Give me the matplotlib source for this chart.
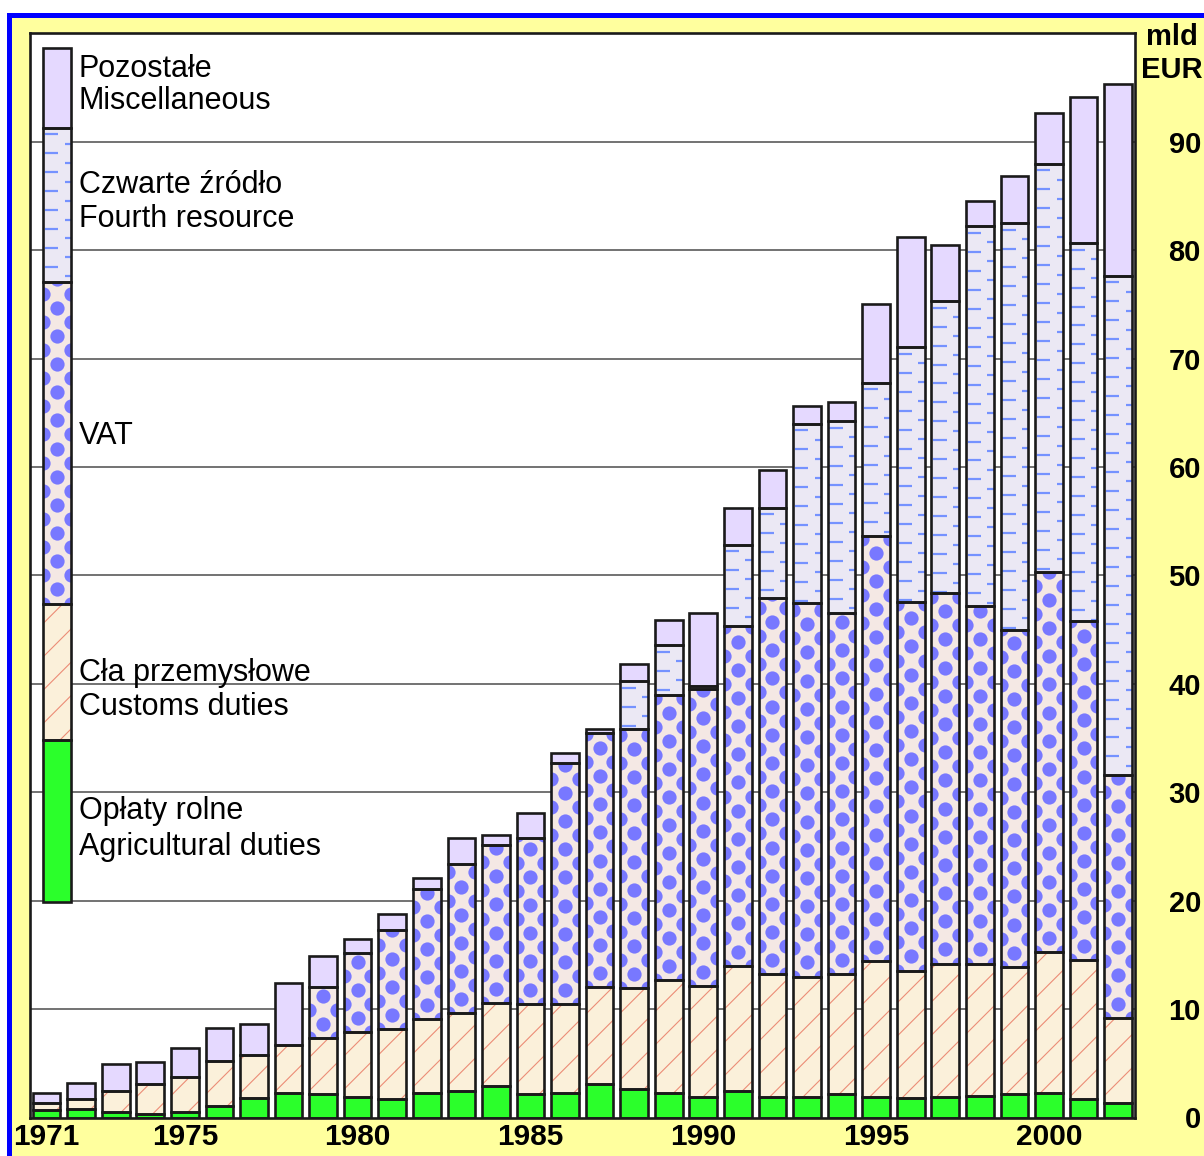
import numpy as np
import matplotlib.pyplot as plt
from matplotlib.patches import Rectangle

plt.rcParams['font.family'] = ['Liberation Sans', 'DejaVu Sans']
plt.rcParams['hatch.linewidth'] = 0.8

# EU own resources, bn EUR
years = np.arange(1971, 2003)
agri = [0.7, 0.75, 0.5, 0.3, 0.55, 1.1, 1.8, 2.25, 2.15, 1.9, 1.7, 2.25, 2.4, 2.95, 2.15, 2.25,
        3.05, 2.65, 2.3, 1.85, 2.45, 1.9, 1.9, 2.15, 1.85, 1.8, 1.85, 1.95, 2.15, 2.25, 1.75, 1.3]
customs = [0.65, 0.95, 1.95, 2.8, 3.2, 4.15, 3.95, 4.4, 5.2, 5.95, 6.45, 6.8, 7.2, 7.6, 8.35, 8.2,
           8.95, 9.25, 10.35, 10.3, 11.55, 11.3, 11.1, 11.05, 12.55, 11.75, 12.35, 12.25, 11.75, 13.0, 12.8, 7.9]
vat = [0, 0, 0, 0, 0, 0, 0, 0, 4.7, 7.35, 9.15, 12.05, 13.75, 14.55, 15.25, 22.25,
       23.5, 23.95, 26.35, 27.35, 31.35, 34.75, 34.5, 33.3, 39.2, 34.0, 34.15, 33.0, 31.05, 35.1, 31.25, 22.4]
fourth = [0, 0, 0, 0, 0, 0, 0, 0, 0, 0, 0, 0, 0, 0, 0, 0,
          0, 4.4, 4.55, 0.3, 7.5, 8.3, 16.5, 17.7, 14.15, 23.5, 26.95, 35.0, 37.55, 37.6, 34.85, 46.05]
misc = [0.95, 1.45, 2.45, 2.0, 2.7, 3.0, 2.9, 5.8, 2.85, 1.25, 1.5, 1.0, 2.45, 1.0, 2.3, 0.9,
        0.3, 1.6, 2.3, 6.7, 3.35, 3.45, 1.65, 1.8, 7.3, 10.15, 5.2, 2.3, 4.35, 4.7, 13.5, 17.7]

kinds = ['agri', 'customs', 'vat', 'fourth', 'misc']
labels_pl = ['Opłaty rolne', 'Cła przemysłowe', 'VAT', 'Czwarte źródło', 'Pozostałe']
labels_en = ['Agricultural duties', 'Customs duties', '', 'Fourth resource', 'Miscellaneous']
key_edges = [19.9, 34.8, 47.4, 77.1, 91.3, 98.6]
key_baselines = [(27.5, 24.2), (40.3, 37.1), (62.1, None), (85.3, 82.1), (96.0, 93.0)]
year_ticks = [1971, 1975, 1980, 1985, 1990, 1995, 2000]
value_ticks = np.arange(0, 100, 10)

FACES = {'agri': '#2bff2b', 'customs': '#fbf0da', 'vat': '#f4e8e4',
         'fourth': '#ebe8f4', 'misc': '#e5d9ff'}
CUST_HATCH = '#ec8c76'
VAT_DOT = '#7878ff'
FOURTH_DASH = '#7592ff'
EDGE = '#1a1a1a'
W = 0.8


def add_dots(ax, rect):
    x0, y0 = rect.get_x(), rect.get_y()
    w, h = rect.get_width(), rect.get_height()
    step = 2.6
    ys_mid = np.arange(y0 + step / 2, y0 + h + step, step)
    ys_side = np.arange(y0, y0 + h + step, step)
    xs = np.r_[np.full(len(ys_mid), x0 + w / 2), np.full(len(ys_side), x0), np.full(len(ys_side), x0 + w)]
    ys = np.r_[ys_mid, ys_side, ys_side]
    sc = ax.scatter(xs, ys, s=105, color=VAT_DOT, linewidths=0, zorder=3)
    sc.set_clip_path(rect)


def add_dashes(ax, rect):
    x0, y0 = rect.get_x(), rect.get_y()
    w, h = rect.get_width(), rect.get_height()
    step = 1.75
    ys_a = np.arange(y0 + h - 0.6, y0, -step)
    ys_b = ys_a - step / 2
    ys_b = ys_b[ys_b > y0]
    la = ax.hlines(ys_a, x0 + 0.05, x0 + 0.44, colors=FOURTH_DASH, lw=1.6, zorder=3)
    lb = ax.hlines(ys_b, x0 + 0.62, x0 + w, colors=FOURTH_DASH, lw=1.6, zorder=3)
    la.set_clip_path(rect)
    lb.set_clip_path(rect)


def draw_layer(ax, x, heights, bottoms, kind):
    x = np.atleast_1d(np.asarray(x, float))
    heights = np.atleast_1d(np.asarray(heights, float))
    bottoms = np.atleast_1d(np.asarray(bottoms, float))
    m = heights > 0
    x, heights, bottoms = x[m], heights[m], bottoms[m]
    if kind == 'customs':
        faces = ax.bar(x, heights, W, bottoms, color=FACES[kind], edgecolor=CUST_HATCH,
                       hatch='/', linewidth=0, zorder=2)
    else:
        faces = ax.bar(x, heights, W, bottoms, color=FACES[kind], linewidth=0, zorder=2)
    for rect in faces:
        if kind == 'vat':
            add_dots(ax, rect)
        elif kind == 'fourth':
            add_dashes(ax, rect)
    ax.bar(x, heights, W, bottoms, facecolor='none', edgecolor=EDGE, linewidth=1.9, zorder=4)


fig = plt.figure(figsize=(12.04, 11.56), dpi=100)
fig.patch.set_facecolor('white')
# blue-rimmed yellow panel
fig.add_artist(Rectangle((7 / 1204, 0), 1, 1143 / 1156, transform=fig.transFigure,
                         facecolor='#0000ff', edgecolor='none', zorder=-2))
fig.add_artist(Rectangle((12 / 1204, 0), 1, 1138 / 1156, transform=fig.transFigure,
                         facecolor='#ffff9e', edgecolor='none', zorder=-1))

ax = fig.add_axes([30 / 1204, 38.5 / 1156, 1105 / 1204, 1084.2 / 1156])
ax.set_facecolor('white')

for v in value_ticks[1:]:
    ax.axhline(v, color='#5a5a5a', lw=1.2, zorder=1)

series = [agri, customs, vat, fourth, misc]
bottom = np.zeros(len(years))
for kind, vals in zip(kinds, series):
    draw_layer(ax, years, vals, bottom, kind)
    bottom = bottom + np.asarray(vals)

# key column with captions
key_x = 1971.3
for i, kind in enumerate(kinds):
    draw_layer(ax, key_x, key_edges[i + 1] - key_edges[i], key_edges[i], kind)
ytr = ax.get_yaxis_transform()
for pl, en, (b1, b2) in zip(labels_pl, labels_en, key_baselines):
    ax.text(0.0443, b1, pl, transform=ytr, fontsize=22, va='baseline', ha='left', zorder=5)
    if b2 is not None:
        ax.text(0.0443, b2, en, transform=ytr, fontsize=22, va='baseline', ha='left', zorder=5)

ax.set_xlim(1970.52, 2002.49)
ax.set_ylim(0, 100)

ax.set_xticks(year_ticks)
ax.set_xticklabels([str(y) for y in year_ticks], fontsize=21.5, fontweight='bold')
ax.tick_params(axis='x', length=0, pad=4)

ax.yaxis.tick_right()
ax.set_yticks(value_ticks)
ax.set_yticklabels([str(v) for v in value_ticks], fontsize=21, fontweight='bold')
ax.tick_params(axis='y', length=0, pad=47.5)
for t in ax.get_yticklabels():
    t.set_horizontalalignment('right')

for s in ax.spines.values():
    s.set_linewidth(1.9)
    s.set_color(EDGE)

fig.text(1172 / 1204, 1 - 45 / 1156, 'mld', fontsize=21, fontweight='bold', ha='center', va='baseline')
fig.text(1141 / 1204, 1 - 78 / 1156, 'EUR', fontsize=21, fontweight='bold', ha='left', va='baseline')

fig.savefig('out.png', dpi=100)
